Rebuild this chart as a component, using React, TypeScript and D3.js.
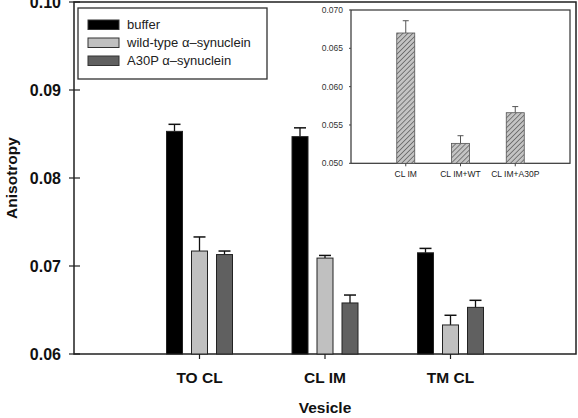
import React from 'react';
import * as d3 from 'd3';

const categories = ['TO CL', 'CL IM', 'TM CL'];
const seriesNames = ['buffer', 'wild-type α–synuclein', 'A30P α–synuclein'];
const bufferValues = [0.0853, 0.0847, 0.0715];
const bufferErrors = [0.0008, 0.001, 0.0005];
const wildTypeValues = [0.0717, 0.0709, 0.0633];
const wildTypeErrors = [0.0016, 0.0003, 0.0011];
const a30pValues = [0.0713, 0.0658, 0.0653];
const a30pErrors = [0.0004, 0.0009, 0.0008];
const yTicks = [0.06, 0.07, 0.08, 0.09, 0.1];

const insetCategories = ['CL IM', 'CL IM+WT', 'CL IM+A30P'];
const insetValues = [0.067, 0.0526, 0.0566];
const insetErrors = [0.0016, 0.001, 0.0008];
const insetTicks = [0.05, 0.055, 0.06, 0.065, 0.07];

const seriesColors = ['#000000', '#c0c0c0', '#606060'];
const font = '"Liberation Sans", Arial, sans-serif';

export default function App() {
  const width = 578;
  const height = 418;

  // main plot
  const x = d3.scaleLinear().domain([0, 4]).range([74, 576]);
  const y = d3.scaleLinear().domain([0.06, 0.1]).range([354, 2]);
  const offset = d3.scaleBand<string>().domain(seriesNames).range([-37.5, 37.5]);
  const barW = 16;
  const series = [
    { values: bufferValues, errors: bufferErrors },
    { values: wildTypeValues, errors: wildTypeErrors },
    { values: a30pValues, errors: a30pErrors },
  ];

  // inset
  const ix = d3.scaleLinear().domain([0, 4]).range([351, 570]);
  const iy = d3.scaleLinear().domain([0.05, 0.07]).range([163.3, 10]);
  const iBarW = 18;

  const fmtMain = d3.format('.2f');
  const fmtInset = d3.format('.3f');

  return (
    <svg
      width={width}
      height={height}
      style={{ position: 'absolute', left: 0, top: 0, background: '#fff' }}
      fontFamily={font}
    >
      <defs>
        <pattern id="hatch" width="3.5" height="3.5" patternUnits="userSpaceOnUse" patternTransform="rotate(45)">
          <rect width="3.5" height="3.5" fill="#c4c4c4" />
          <line x1="0" y1="0" x2="0" y2="3.5" stroke="#5e5e5e" strokeWidth="1.5" />
        </pattern>
      </defs>

      {/* frame */}
      <rect x={x(0)} y={y(0.1)} width={x(4) - x(0)} height={y(0.06) - y(0.1)} fill="none" stroke="#202020" strokeWidth={1.5} />

      {/* y axis ticks */}
      {yTicks.map(t => (
        <g key={t}>
          <line x1={x(0) - 5} x2={x(0) + 6} y1={y(t)} y2={y(t)} stroke="#202020" strokeWidth={1.2} />
          <text x={61} y={y(t)} dy="0.36em" textAnchor="end" fontSize={16} fontWeight="bold" fill="#111">
            {fmtMain(t)}
          </text>
        </g>
      ))}

      {/* category ticks & labels */}
      {categories.map((c, i) => (
        <g key={c}>
          <line x1={x(i + 1)} x2={x(i + 1)} y1={y(0.06)} y2={y(0.06) + 5} stroke="#202020" strokeWidth={1.2} />
          <text x={x(i + 1)} y={383} textAnchor="middle" fontSize={15.5} fontWeight="bold" fill="#111">
            {c}
          </text>
        </g>
      ))}

      {/* bars */}
      {series.map((s, si) =>
        categories.map((c, i) => {
          const cx = x(i + 1) + offset(seriesNames[si])! + offset.bandwidth() / 2;
          const top = y(s.values[i]);
          const errTop = y(s.values[i] + s.errors[i]);
          return (
            <g key={`${si}-${c}`}>
              <line x1={cx} x2={cx} y1={top} y2={errTop} stroke="#111" strokeWidth={1.3} />
              <line x1={cx - 6} x2={cx + 6} y1={errTop} y2={errTop} stroke="#111" strokeWidth={1.5} />
              <rect
                x={cx - barW / 2}
                y={top}
                width={barW}
                height={y(0.06) - top}
                fill={seriesColors[si]}
                stroke="#222"
                strokeWidth={1}
              />
            </g>
          );
        })
      )}

      {/* axis titles */}
      <text
        transform={`translate(17,178) rotate(-90)`}
        textAnchor="middle"
        fontSize={15.5}
        fontWeight="bold"
        fill="#111"
      >
        Anisotropy
      </text>
      <text x={325} y={413} textAnchor="middle" fontSize={15.5} fontWeight="bold" fill="#111">
        Vesicle
      </text>

      {/* legend */}
      <rect x={78} y={8} width={189} height={71} fill="#fff" stroke="#303030" strokeWidth={1.3} />
      {seriesNames.map((n, i) => (
        <g key={n}>
          <rect x={88} y={20 + i * 18} width={31} height={9.5} fill={seriesColors[i]} stroke="#333" strokeWidth={1} />
          <text x={127} y={29 + i * 18} fontSize={13} fill="#222">
            {n}
          </text>
        </g>
      ))}

      {/* inset */}
      <rect x={ix(0)} y={iy(0.07)} width={ix(4) - ix(0)} height={iy(0.05) - iy(0.07)} fill="#fff" stroke="#333" strokeWidth={1.2} />
      {insetTicks.map(t => (
        <g key={t}>
          <line x1={ix(0) - 2} x2={ix(0)} y1={iy(t)} y2={iy(t)} stroke="#444" strokeWidth={1} />
          <text x={343} y={iy(t)} dy="0.35em" textAnchor="end" fontSize={8.5} fill="#333">
            {fmtInset(t)}
          </text>
        </g>
      ))}
      {insetCategories.map((c, i) => {
        const cx = ix(i + 1);
        const top = iy(insetValues[i]);
        const errTop = iy(insetValues[i] + insetErrors[i]);
        return (
          <g key={c}>
            <line x1={cx} x2={cx} y1={top} y2={errTop} stroke="#555" strokeWidth={1} />
            <line x1={cx - 3} x2={cx + 3} y1={errTop} y2={errTop} stroke="#555" strokeWidth={1} />
            <rect
              x={cx - iBarW / 2}
              y={top}
              width={iBarW}
              height={iy(0.05) - top}
              fill="url(#hatch)"
              stroke="#555"
              strokeWidth={0.8}
            />
            <line x1={cx} x2={cx} y1={iy(0.05)} y2={iy(0.05) + 3} stroke="#444" strokeWidth={1} />
            <text x={cx} y={176.5} textAnchor="middle" fontSize={8.5} fill="#222">
              {c}
            </text>
          </g>
        );
      })}
    </svg>
  );
}
